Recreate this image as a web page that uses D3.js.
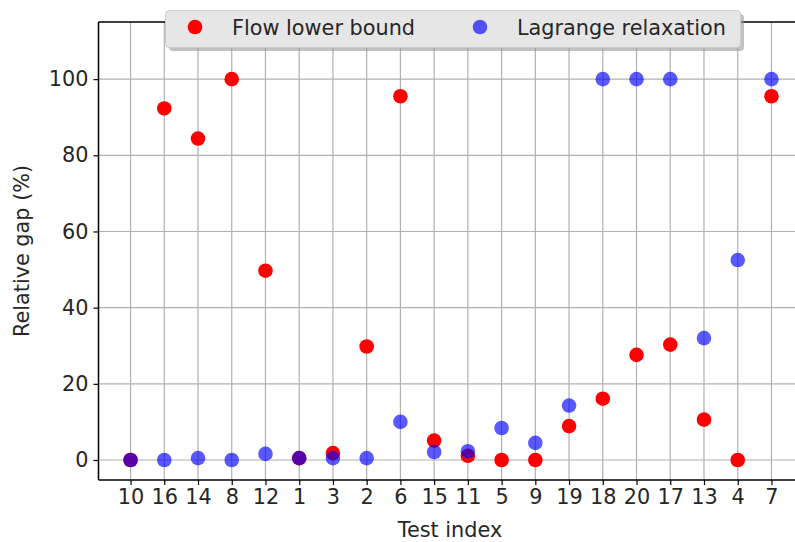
<!DOCTYPE html>
<html>
<head>
<meta charset="utf-8">
<script src="https://cdn.jsdelivr.net/npm/d3@7"></script>
<style>
  body { margin: 0; background: #fff; }
  svg text { font-family: "DejaVu Sans", sans-serif; fill: #262626; }
</style>
</head>
<body>
<div id="chart"></div>
<script>
// test index order along the x axis
var tests = ["10","16","14","8","12","1","3","2","6","15","11","5","9","19","18","20","17","13","4","7"];
// relative gap (%) for each method
var flowLower = [0, 92.3, 84.4, 100, 49.7, 0.5, 1.8, 29.8, 95.5, 5.1, 1.1, 0, 0, 8.9, 16.1, 27.6, 30.3, 10.6, 0, 95.5];
var lagrange  = [0, 0, 0.5, 0, 1.6, 0.5, 0.5, 0.5, 10, 2.1, 2.3, 8.4, 4.5, 14.3, 100, 100, 100, 32, 52.5, 100];
var yTicks = [0, 20, 40, 60, 80, 100];

var W = 795, H = 542;
var pLeft = 98.5, pRight = 803.5, pTop = 22, pBottom = 480;
var fs = 20.8;

var svg = d3.select("#chart").append("svg")
    .attr("width", W).attr("height", H);

var x = d3.scaleLinear().domain([-0.95, tests.length - 1 + 0.95]).range([pLeft, pRight]);
var y = d3.scaleLinear().domain([-5.25, 115]).range([pBottom, pTop]);

// grid
svg.append("g").selectAll("line").data(tests).enter().append("line")
    .attr("x1", function(d, i){ return x(i); }).attr("x2", function(d, i){ return x(i); })
    .attr("y1", pTop).attr("y2", pBottom)
    .attr("stroke", "#b0b0b0").attr("stroke-width", 1.2);
svg.append("g").selectAll("line").data(yTicks).enter().append("line")
    .attr("x1", pLeft).attr("x2", pRight)
    .attr("y1", function(d){ return y(d); }).attr("y2", function(d){ return y(d); })
    .attr("stroke", "#b0b0b0").attr("stroke-width", 1.2);

// points: red first, blue semi-transparent on top
svg.append("g").selectAll("circle").data(flowLower).enter().append("circle")
    .attr("cx", function(d, i){ return x(i); })
    .attr("cy", function(d){ return y(d); })
    .attr("r", 7.3).attr("fill", "#ff0000");
svg.append("g").selectAll("circle").data(lagrange).enter().append("circle")
    .attr("cx", function(d, i){ return x(i); })
    .attr("cy", function(d){ return y(d); })
    .attr("r", 7.3).attr("fill", "#0000ff").attr("fill-opacity", 0.65);

// axes
var xAxis = d3.axisBottom(x).tickValues(d3.range(tests.length))
    .tickFormat(function(i){ return tests[i]; }).tickSize(5).tickPadding(4);
var gx = svg.append("g").attr("transform", "translate(0," + pBottom + ")").call(xAxis);
var yAxis = d3.axisLeft(y).tickValues(yTicks).tickSize(5).tickPadding(5);
var gy = svg.append("g").attr("transform", "translate(" + pLeft + ",0)").call(yAxis);
[gx, gy].forEach(function(g){
    g.select(".domain").remove();
    g.selectAll(".tick line").attr("stroke", "#000").attr("stroke-width", 1.2);
    g.selectAll(".tick text").attr("font-size", fs).attr("fill", "#262626")
        .attr("font-family", "DejaVu Sans");
});

// spines
svg.append("line").attr("x1", pLeft).attr("x2", pLeft).attr("y1", pTop).attr("y2", pBottom)
    .attr("stroke", "#000").attr("stroke-width", 1.5);
svg.append("line").attr("x1", pLeft).attr("x2", pRight).attr("y1", pBottom).attr("y2", pBottom)
    .attr("stroke", "#000").attr("stroke-width", 1.5);
svg.append("line").attr("x1", pLeft).attr("x2", pRight).attr("y1", pTop).attr("y2", pTop)
    .attr("stroke", "#000").attr("stroke-width", 1.5);

// axis labels
svg.append("text").attr("x", 450).attr("y", 537).attr("text-anchor", "middle")
    .attr("font-size", fs).text("Test index");
svg.append("text").attr("transform", "translate(29,251) rotate(-90)")
    .attr("text-anchor", "middle").attr("font-size", fs).text("Relative gap (%)");

// legend
var lg = svg.append("g");
lg.append("rect").attr("x", 169).attr("y", 14).attr("width", 575).attr("height", 37)
    .attr("rx", 4).attr("fill", "#9a9a9a").attr("opacity", 0.6);
lg.append("rect").attr("x", 165.5).attr("y", 10.5).attr("width", 575).attr("height", 37)
    .attr("rx", 4).attr("fill", "#e6e6e6").attr("stroke", "#cccccc");
var series = [
    { name: "Flow lower bound", color: "#ff0000", op: 1, x: 195 },
    { name: "Lagrange relaxation", color: "#0000ff", op: 0.65, x: 480 }
];
series.forEach(function(s){
    lg.append("circle").attr("cx", s.x).attr("cy", 27).attr("r", 7.3)
        .attr("fill", s.color).attr("fill-opacity", s.op);
    lg.append("text").attr("x", s.x + 37).attr("y", 34.5).attr("font-size", fs).text(s.name);
});
</script>
</body>
</html>
